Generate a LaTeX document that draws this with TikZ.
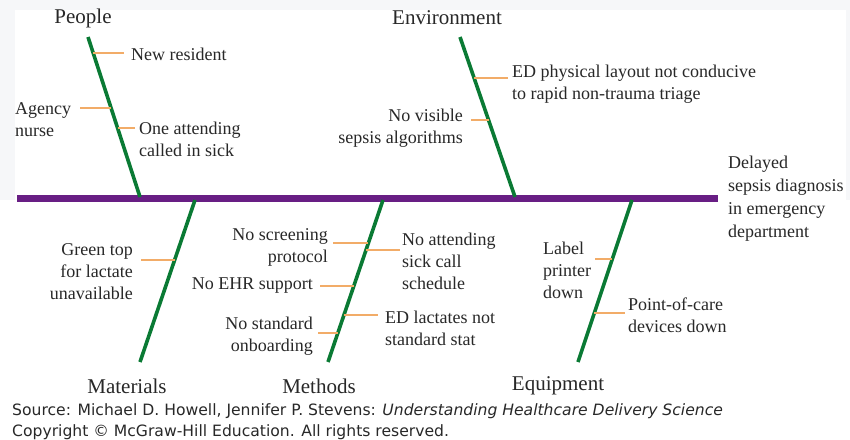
\documentclass[tikz,border=0pt]{standalone}
\usepackage{fontspec}
\setmainfont{Liberation Serif}
\newfontfamily\srcfont{DejaVu Sans}
\usetikzlibrary{calc}
\definecolor{spinepurple}{RGB}{104,30,132}
\definecolor{bonegreen}{RGB}{10,122,52}
\definecolor{tickorange}{RGB}{242,172,104}
\definecolor{inkgray}{RGB}{40,40,40}
\definecolor{panelgray}{RGB}{246,247,249}
\begin{document}
\begin{tikzpicture}[x=1pt,y=-1pt,
  spine/.style={draw=spinepurple,line width=7pt},
  bone/.style={draw=bonegreen,line width=3.6pt},
  tick/.style={draw=tickorange,line width=2.2pt},
  cat/.style={inner sep=0pt,text=inkgray,font=\fontsize{21}{24}\selectfont},
  cause/.style={inner sep=0pt,text=inkgray,font=\fontsize{18}{22}\selectfont},
  src/.style={inner sep=0pt,anchor=north west,align=left,text=inkgray,
    font=\srcfont\fontsize{15.6}{21}\selectfont}]
% canvas with a faint frame along the top and sides
\useasboundingbox (0,0) rectangle (850,439);
\fill[white] (0,0) rectangle (850,439);
\fill[panelgray] (0,0) rectangle (850,10);
\fill[panelgray] (0,10) rectangle (15,200);
\fill[panelgray] (846,10) rectangle (850,200);

% bone end points
\coordinate (pT) at (88,37);   \coordinate (pB) at (140,197);
\coordinate (eT) at (460,37);  \coordinate (eB) at (515,197);
\coordinate (mT) at (195,200); \coordinate (mB) at (140,362);
\coordinate (tT) at (383,200); \coordinate (tB) at (328,362);
\coordinate (qT) at (632,200); \coordinate (qB) at (578,362);
\coordinate (sL) at (17,198);  \coordinate (sR) at (718,198);

% spine and bones
\draw[spine] (sL) -- (sR);
\draw[bone] (pT) -- (pB);
\draw[bone] (eT) -- (eB);
\draw[bone] (mT) -- (mB);
\draw[bone] (tT) -- (tB);
\draw[bone] (qT) -- (qB);

% category headings
\node[cat] (people) at (83,18) {People};
\node[cat] (env) at (447,18) {Environment};
\node[cat] (mat) at (127,386) {Materials};
\node[cat] (meth) at (319,386) {Methods};
\node[cat] (equip) at (558,386) {Equipment};

% effect
\node[cause,anchor=north west,align=left,font=\fontsize{18}{23}\selectfont] (effect) at (728,156)
  {Delayed\\sepsis diagnosis\\in emergency\\department};

% People causes
\node[cause,anchor=west] (c1) at (131,54) {New resident};
\node[cause,anchor=north west,align=left] (c2) at (15,102) {Agency\\nurse};
\node[cause,anchor=north west,align=left] (c3) at (139,122) {One attending\\called in sick};
\draw[tick] ($(pT)!0.1!(pB)$) coordinate (k1) -- ++(31,0);
\draw[tick] ($(pT)!0.444!(pB)$) coordinate (k2) -- ++(-31,0);
\draw[tick] ($(pT)!0.569!(pB)$) coordinate (k3) -- ++(17,0);

% Environment causes
\node[cause,anchor=north west,align=left] (c4) at (512,65)
  {ED physical layout not conducive\\to rapid non-trauma triage};
\node[cause,anchor=north east,align=right] (c5) at (463,109) {No visible\\sepsis algorithms};
\draw[tick] ($(eT)!0.256!(eB)$) coordinate (k4) -- ++(34,0);
\draw[tick] ($(eT)!0.519!(eB)$) coordinate (k5) -- ++(-18,0);

% Materials causes
\node[cause,anchor=north east,align=right] (c6) at (133,243) {Green top\\for lactate\\unavailable};
\draw[tick] ($(mT)!0.37!(mB)$) coordinate (k6) -- ++(-34,0);

% Methods causes
\node[cause,anchor=north east,align=right] (c7) at (328,228) {No screening\\protocol};
\node[cause,anchor=north west,align=left] (c8) at (402,233) {No attending\\sick call\\schedule};
\node[cause,anchor=east] (c9) at (313,286) {No EHR support};
\node[cause,anchor=north west,align=left] (c10) at (385,311) {ED lactates not\\standard stat};
\node[cause,anchor=north east,align=right] (c11) at (313,317) {No standard\\onboarding};
\draw[tick] ($(tT)!0.265!(tB)$) coordinate (k7) -- ++(-35,0);
\draw[tick] ($(tT)!0.309!(tB)$) coordinate (k8) -- ++(34,0);
\draw[tick] ($(tT)!0.531!(tB)$) coordinate (k9) -- ++(-34,0);
\draw[tick] ($(tT)!0.71!(tB)$) coordinate (k10) -- ++(34,0);
\draw[tick] ($(tT)!0.821!(tB)$) coordinate (k11) -- ++(-20,0);

% Equipment causes
\node[cause,anchor=north west,align=left] (c12) at (543,242) {Label\\printer\\down};
\node[cause,anchor=north west,align=left] (c13) at (628,298) {Point-of-care\\devices down};
\draw[tick] ($(qT)!0.364!(qB)$) coordinate (k12) -- ++(-17,0);
\draw[tick] ($(qT)!0.698!(qB)$) coordinate (k13) -- ++(31,0);

% credit line
\node[src] (credit) at (12,403)
  {Source: Michael D. Howell, Jennifer P. Stevens: \textit{Understanding Healthcare Delivery Science}\\
   Copyright © McGraw-Hill Education. All rights reserved.};
\end{tikzpicture}
\end{document}
